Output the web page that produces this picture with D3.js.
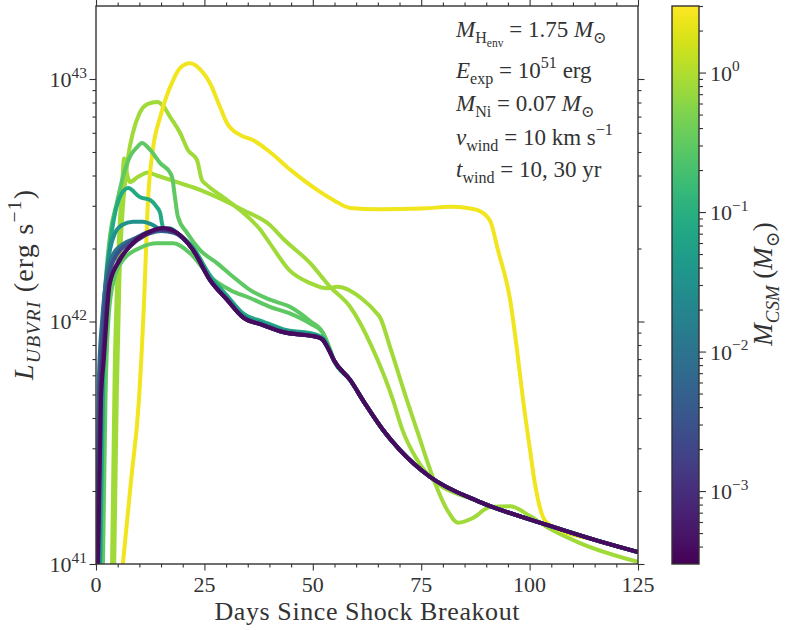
<!DOCTYPE html>
<html><head><meta charset="utf-8">
<script src="https://cdn.jsdelivr.net/npm/d3@7"></script>
<style>
body{margin:0;background:#fff}
svg{display:block}
text{font-family:"Liberation Serif","DejaVu Serif",serif;fill:#333;white-space:pre}
</style>
</head><body><svg id="c" width="786" height="630"></svg>
<script>
// ---- data: [day, L in 1e42 erg/s] ----
const xMajor = [0, 25, 50, 75, 100, 125];
const xMinor = [5,10,15,20,30,35,40,45,55,60,65,70,80,85,90,95,105,110,115,120];
const yMajor = [0.1, 1, 10];
const yMajorExp = ["41", "42", "43"];
const yMinor = [0.2,0.3,0.4,0.5,0.6,0.7,0.8,0.9,2,3,4,5,6,7,8,9];
const cbMajor = [1, 0.1, 0.01, 0.001];
const cbMajorExp = ["0", "\u22121", "\u22122", "\u22123"];
const cbMinor = [4e-4,5e-4,6e-4,7e-4,8e-4,9e-4,2e-3,3e-3,4e-3,5e-3,6e-3,7e-3,8e-3,9e-3,
                 0.02,0.03,0.04,0.05,0.06,0.07,0.08,0.09,0.2,0.3,0.4,0.5,0.6,0.7,0.8,0.9,2,3];
const cbDomain = [3e-4, 3];

const midTail = [[22.4,1.97],[26.3,1.48],[30.2,1.23],[33.9,1.04],[38.5,0.967],[43.1,0.905],[51,0.863],[52.3,0.84],[53.6,0.77]];
const lateTail = [[54.9,0.69],[58.6,0.574],[62,0.46],[66.2,0.357],[70.1,0.295],[77,0.229],[88.6,0.18],[104,0.145],[116.2,0.124],[125,0.112]];

const yellowPts = [[6.2,0.1],[8.1,0.222],[9.9,0.474],[11.1,1.23],[12.0,3.17],[13.1,5.1],[14.8,6.97],[17.8,9.9],[19.4,11.1],[21.7,11.6],[24.7,10.6],[26.3,9.6],[28.6,7.67],[30.2,6.59],[33.2,5.88],[36.2,5.6],[40.1,5.0],[45,4.2],[51,3.49],[55,3.15],[58.6,2.94],[65,2.9],[70.1,2.91],[76,2.93],[81.6,2.97],[86,2.93],[88.6,2.85],[90.9,2.6],[92.7,1.97],[95.5,1.23],[97.1,0.763],[98.5,0.474],[100.1,0.295],[101.2,0.216],[103.1,0.156],[104.6,0.145]];
const yg1Pts = [[4.2,0.1],[4.8,0.5],[5.4,1.5],[6.2,2.97],[6.7,3.72],[7.4,4.77],[8.5,5.99],[10,7.2],[12,7.9],[14.1,8.04],[15.6,7.7],[17.1,6.97],[19.4,5.99],[21.2,5.1],[23.3,4.63],[24.4,3.84],[25.6,3.65],[29.3,3.26],[33.2,2.88],[37.8,2.4],[40.1,2.1],[44.7,1.62],[49.4,1.44],[53.3,1.37],[55.6,1.39],[61.6,1.23],[64.8,1.08],[65.5,1.04],[67.8,0.785],[71.7,0.474],[74,0.357],[78,0.22],[81,0.167],[83.5,0.148],[87,0.155],[90.9,0.172],[95.5,0.173],[100,0.158],[104,0.142],[111.6,0.122],[125,0.102]];
const yg2Pts = [[3.7,0.1],[4.3,0.6],[5.2,2.0],[6.0,3.6],[6.5,4.7],[7.0,4.2],[7.8,3.76],[9.7,3.95],[12,4.12],[14,4.0],[17.1,3.84],[19.4,3.72],[24,3.49],[29.3,3.17],[33.9,2.88],[40.1,2.5],[43.1,2.2],[49.4,1.74],[54,1.39],[58.6,1.15],[63.7,0.78],[68.5,0.474],[70.6,0.36],[74,0.27]];
const g1Pts = [[1.2,0.1],[1.6,0.9],[2.4,1.6],[3.3,2.3],[4.8,3.08],[6.2,3.94],[7.8,4.77],[9.5,5.24],[10.6,5.45],[12.5,5.1],[14.8,4.5],[17.1,4.1],[17.6,3.9],[18.2,3.26],[18.9,2.7],[21,2.32],[24,1.97],[27.9,1.74],[31.6,1.53],[35.5,1.35],[40.1,1.23],[44.7,1.15],[49.5,1.0],[52.3,0.9],[53.8,0.78]];
const g2Pts = [[1.6,0.1],[2.2,0.5],[3.0,1.1],[4.2,1.5],[6.2,1.79],[10.1,2.01],[14.1,2.1],[17.8,2.1],[21.7,1.91],[26.3,1.53],[30.9,1.35],[35.5,1.25],[40.1,1.15],[44.7,1.08],[49.4,0.98],[52.3,0.9],[53.8,0.78]];
const t1Pts = [[1.0,0.1],[1.8,0.8],[2.5,1.5],[3.2,2.03],[4.4,2.8],[5.5,3.26],[7.4,3.55],[10.1,3.26],[12.5,3.17],[14,2.97],[14.8,2.8],[15.2,2.55],[15.6,2.4],[17,2.42],[19,2.3],[22.4,2.02],[26.3,1.55],[30.2,1.28],[33.9,1.08],[38.5,1.0],[43.1,0.93],[51,0.88],[52.5,0.85],[53.7,0.775]];
const t2Pts = [[0.8,0.1],[1.4,0.8],[2.3,1.5],[3.2,1.97],[4.4,2.32],[6,2.5],[8.5,2.58],[10.8,2.58],[13.1,2.5],[15.2,2.39],[17,2.42],[19,2.28],[22.4,1.99],[26.3,1.5],[30.2,1.25],[33.9,1.06],[38.5,0.98],[43.1,0.92],[51,0.87],[52.5,0.845],[53.7,0.772]];
const bluetEarly = [[0.2,0.1],[0.7,0.6],[1.4,1.0],[2.5,1.55],[4,1.9],[6.5,2.1],[9,2.2],[12,2.3],[15,2.36],[18,2.32]];
const blueEarly = [[0.3,0.1],[0.8,0.5],[1.5,0.9],[2.8,1.5],[4.5,1.85],[7.5,2.1],[11,2.3],[14.5,2.38],[18,2.33]];
const purpleEarly = [[0.4,0.1],[1.0,0.5],[1.8,0.8],[3,1.4],[5,1.75],[8,2.05],[11.5,2.28],[15,2.4],[18.2,2.34]];
const darkEarly = [[0.46,0.1],[1.15,0.474],[1.8,0.694],[3.2,1.44],[5.5,1.79],[8.5,2.11],[11.8,2.32],[15.5,2.43],[18.7,2.32]];

const massCSM = {yg1:0.8, yg2:0.8, yellow:2.5, g1:0.3, g2:0.3, t1:0.08, t2:0.03, bluet:0.01, blue:0.003, purple:0.001, dark:0.0004};

const series = [
  {m: massCSM.yg1, pts: yg1Pts},
  {m: massCSM.yg2, pts: yg2Pts.concat(lateTail.filter(p => p[0] >= 77))},
  {m: massCSM.yellow, pts: yellowPts.concat(lateTail.filter(p => p[0] > 105))},
  {m: massCSM.g1, pts: g1Pts.concat(lateTail)},
  {m: massCSM.g2, pts: g2Pts.concat(lateTail)},
  {m: massCSM.t1, pts: t1Pts.concat(lateTail)},
  {m: massCSM.t2, pts: t2Pts.concat(lateTail)},
  {m: massCSM.bluet, pts: bluetEarly.concat(midTail, lateTail)},
  {m: massCSM.blue, pts: blueEarly.concat(midTail, lateTail)},
  {m: massCSM.purple, pts: purpleEarly.concat(midTail, lateTail)},
  {m: massCSM.dark, pts: darkEarly.concat(midTail, lateTail)}
];

// ---- drawing ----
const svg = d3.select("#c");
const L = 96, R = 638, T = 6, B = 564;
const x = d3.scaleLinear().domain([0,125]).range([L,R]);
const y = d3.scaleLog().domain([0.1,20]).range([B,T]);
const cb = d3.scaleLog().domain(cbDomain).range([0,1]);
const color = m => d3.interpolateViridis(cb(m));
const INK = "#333";

svg.append("clipPath").attr("id","clip").append("rect")
  .attr("x",L).attr("y",T).attr("width",R-L).attr("height",B-T);

const line = d3.line().x(d => x(d[0])).y(d => y(d[1])).curve(d3.curveMonotoneX);
svg.append("g").attr("clip-path","url(#clip)")
  .selectAll("path").data(series).join("path")
  .attr("d", d => line(d.pts))
  .attr("fill","none").attr("stroke", d => color(d.m))
  .attr("stroke-width",4).attr("stroke-linejoin","round").attr("stroke-linecap","round");

// axes ticks (outward, all four sides)
function ticks(axisGen, tr, vals, size){
  const g = svg.append("g").attr("transform",tr)
    .call(axisGen.tickValues(vals).tickSize(size).tickSizeOuter(0).tickFormat(""));
  g.select(".domain").remove();
  g.selectAll(".tick line").attr("stroke",INK).attr("stroke-width",1.1);
  g.selectAll(".tick text").remove();
}
ticks(d3.axisBottom(x), `translate(0,${B})`, xMajor, 6.5);
ticks(d3.axisBottom(x), `translate(0,${B})`, xMinor, 3.5);
ticks(d3.axisTop(x), `translate(0,${T})`, xMajor, 6.5);
ticks(d3.axisTop(x), `translate(0,${T})`, xMinor, 3.5);
ticks(d3.axisLeft(y), `translate(${L},0)`, yMajor, 6.5);
ticks(d3.axisLeft(y), `translate(${L},0)`, yMinor, 3.5);
ticks(d3.axisRight(y), `translate(${R},0)`, yMajor, 6.5);
ticks(d3.axisRight(y), `translate(${R},0)`, yMinor, 3.5);

svg.append("rect").attr("x",L).attr("y",T).attr("width",R-L).attr("height",B-T)
  .attr("fill","none").attr("stroke",INK).attr("stroke-width",1.4);

// math text helper
function mtext(sel, parts, F){
  let cur = 0;
  const off = {base:0, sub:0.26*F, sup:-0.42*F, subsub:0.42*F};
  const fs = {base:F, sub:0.7*F, sup:0.7*F, subsub:0.5*F};
  parts.forEach(p => {
    const pos = p[2] || "base";
    const t = sel.append("tspan").text(p[0])
      .attr("font-size", fs[pos])
      .attr("dy", off[pos] - cur);
    if (p[1] === "i") t.attr("font-style","italic");
    cur = off[pos];
  });
}

// x tick labels
svg.append("g").selectAll("text").data(xMajor).join("text")
  .attr("x", d => x(d)).attr("y", 592).attr("text-anchor","middle")
  .attr("font-size",22).text(d => d);

// y tick labels
yMajor.forEach((v,i) => {
  const t = svg.append("text").attr("x",87).attr("y",y(v)+8).attr("text-anchor","end");
  mtext(t, [["10","r"],[yMajorExp[i],"r","sup"]], 22);
});

// axis labels
svg.append("text").attr("x",367).attr("y",620).attr("text-anchor","middle")
  .attr("font-size",26).attr("textLength",305).attr("lengthAdjust","spacing")
  .text("Days Since Shock Breakout");
const yl = svg.append("text").attr("transform","translate(33,285) rotate(-90)").attr("text-anchor","middle")
  .attr("textLength",190).attr("lengthAdjust","spacing");
mtext(yl, [["L","i"],["UBVRI","i","sub"],[" (erg s","r"],["\u22121","r","sup"],[")","r"]], 28);

// annotation
const ann = [
  [["M","i"],["H","r","sub"],["env","r","subsub"],[" = 1.75 ","r"],["M","i"],["\u2299","r","sub"]],
  [["E","i"],["exp","r","sub"],[" = 10","r"],["51","r","sup"],[" erg","r"]],
  [["M","i"],["Ni","r","sub"],[" = 0.07 ","r"],["M","i"],["\u2299","r","sub"]],
  [["v","i"],["wind","r","sub"],[" = 10 km s","r"],["\u22121","r","sup"]],
  [["t","i"],["wind","r","sub"],[" = 10, 30 yr","r"]]
];
const annY = [37, 78, 111, 145, 177];
ann.forEach((parts,i) => {
  const t = svg.append("text").attr("x",456).attr("y",annY[i]);
  mtext(t, parts, 23);
});

// colorbar
const CX = 672, CW = 27, CT = 6, CB = 564;
const cy = d3.scaleLog().domain(cbDomain).range([CB, CT]);
const grad = svg.append("defs").append("linearGradient").attr("id","vir")
  .attr("x1",0).attr("y1",1).attr("x2",0).attr("y2",0);
d3.range(0,1.0001,0.02).forEach(s => grad.append("stop").attr("offset",s).attr("stop-color",d3.interpolateViridis(s)));
svg.append("rect").attr("x",CX).attr("y",CT).attr("width",CW).attr("height",CB-CT).attr("fill","url(#vir)");
ticks(d3.axisRight(cy), `translate(${CX+CW},0)`, cbMajor, 7);
ticks(d3.axisRight(cy), `translate(${CX+CW},0)`, cbMinor, 4);
svg.append("rect").attr("x",CX).attr("y",CT).attr("width",CW).attr("height",CB-CT)
  .attr("fill","none").attr("stroke",INK).attr("stroke-width",1.4);
cbMajor.forEach((v,i) => {
  const t = svg.append("text").attr("x",710).attr("y",cy(v)+8);
  mtext(t, [["10","r"],[cbMajorExp[i],"r","sup"]], 22);
});
const cl = svg.append("text").attr("transform","translate(772,284) rotate(-90)").attr("text-anchor","middle");
mtext(cl, [["M","i"],["CSM","i","sub"],[" (","r"],["M","i"],["\u2299","r","sub"],[")","r"]], 27);
</script></body></html>
